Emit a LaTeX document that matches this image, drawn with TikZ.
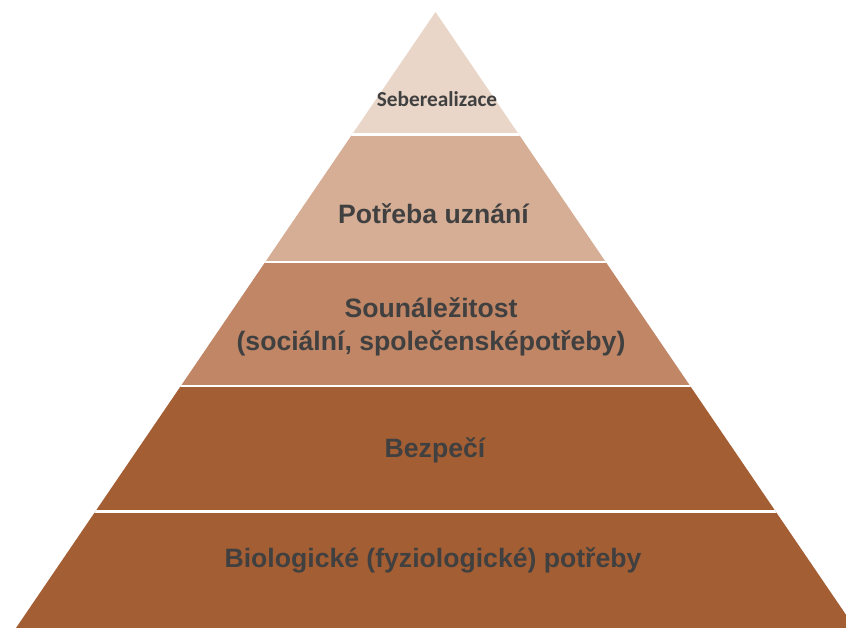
\documentclass[tikz,border=0pt]{standalone}
\usepackage{fontspec}
\setmainfont{Liberation Sans}
\newfontfamily\calib{Carlito}
\definecolor{layA}{HTML}{E9D6C9}
\definecolor{layB}{HTML}{D5AE95}
\definecolor{layC}{HTML}{C08666}
\definecolor{layD}{HTML}{A45E34}
\definecolor{txt}{HTML}{404040}
\begin{document}
\begin{tikzpicture}[x=1pt,y=-1pt,
  lbl/.style={text=txt, font=\bfseries\fontsize{26.6}{33}\selectfont, anchor=base, align=center, inner sep=0pt},
  toplbl/.style={text=txt, font=\calib\bfseries\fontsize{21.3}{24}\selectfont, anchor=base, inner sep=0pt},
  gap/.style={white, line width=2.5pt}]
\useasboundingbox (0,0) rectangle (846,627);
\coordinate (apex) at (435.5,12);
\coordinate (bl) at (7.8,640);
\coordinate (br) at (863.2,640);
\begin{scope}
  \clip (apex) -- (bl) -- (br) -- cycle;
  \fill[layA] (-10,0) rectangle (870,134.5);
  \fill[layB] (-10,134.5) rectangle (870,262);
  \fill[layC] (-10,262) rectangle (870,386);
  \fill[layD] (-10,386) rectangle (870,650);
  \draw[gap] (-10,134.5) -- (870,134.5);
  \draw[gap] (-10,262) -- (870,262);
  \draw[gap] (-10,386) -- (870,386);
  \draw[gap] (-10,511.5) -- (870,511.5);
\end{scope}
\node[toplbl] (l1) at (437,106) {Seberealizace};
\node[lbl] (l2) at (433.5,223) {Potřeba uznání};
\node[lbl] (l3) at (431,350) {Sounáležitost\\(sociální, společensképotřeby)};
\node[lbl] (l4) at (435,457) {Bezpečí};
\node[lbl] (l5) at (433,567) {Biologické (fyziologické) potřeby};
\end{tikzpicture}
\end{document}
